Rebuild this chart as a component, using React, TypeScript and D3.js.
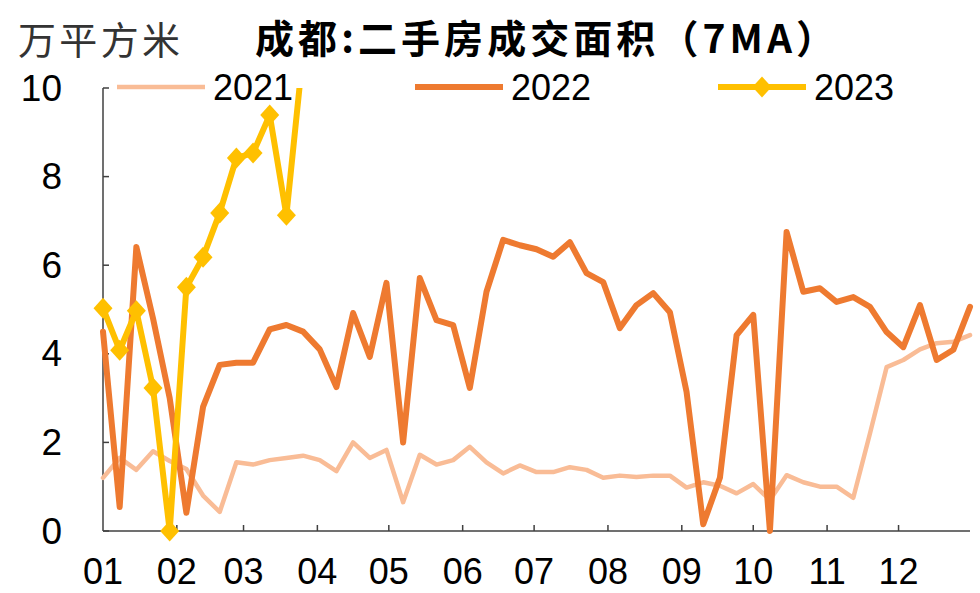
import React from 'react';
import * as d3 from 'd3';

const MONTH_LABELS = ['01', '02', '03', '04', '05', '06', '07', '08', '09', '10', '11', '12'];
const Y_TICKS = [0, 2, 4, 6, 8, 10];
const SERIES_NAMES = ['2021', '2022', '2023'];
const SERIES_COLORS = ['#F9BC96', '#EE7A30', '#FFC000'];

const V2021 = [
  1.2, 1.65, 1.38, 1.8, 1.58, 1.4, 0.8, 0.43, 1.55, 1.5, 1.6, 1.65, 1.7, 1.6,
  1.35, 2.0, 1.65, 1.83, 0.65, 1.72, 1.5, 1.6, 1.9, 1.55, 1.3, 1.48, 1.33, 1.33,
  1.44, 1.38, 1.2, 1.25, 1.22, 1.25, 1.25, 0.98, 1.1, 1.02, 0.85, 1.06, 0.7, 1.26,
  1.1, 1.0, 1.0, 0.75, 2.2, 3.7, 3.86, 4.1, 4.24, 4.27, 4.42,
];
const V2022 = [
  4.5, 0.54, 6.41, 4.8, 3.0, 0.41, 2.8, 3.75, 3.8, 3.8, 4.55, 4.65, 4.5, 4.1,
  3.25, 4.92, 3.93, 5.6, 2.0, 5.71, 4.76, 4.65, 3.23, 5.4, 6.57, 6.45, 6.36, 6.19,
  6.52, 5.82, 5.62, 4.58, 5.1, 5.37, 4.94, 3.14, 0.15, 1.2, 4.42, 4.88, 0.0, 6.75,
  5.4, 5.48, 5.17, 5.28, 5.06, 4.49, 4.15, 5.1, 3.86, 4.09, 5.06,
];
const V2023 = [5.03, 4.08, 4.97, 3.23, 0.0, 5.5, 6.18, 7.18, 8.42, 8.53, 9.39, 7.13, 10.8];

const W = 980;
const H = 593;
const M = { left: 103, right: 10, top: 88, bottom: 62 };

export default function App() {
  const start = new Date(2022, 0, 1);
  const end = new Date(2022, 11, 31);
  const x = d3.scaleTime().domain([start, end]).range([M.left, W - M.right]);
  const y = d3.scaleLinear().domain([0, 10]).range([H - M.bottom, M.top]);
  const dateOf = (i: number) => d3.timeDay.offset(start, 7 * i);
  const monthTicks = d3.timeMonth.range(start, new Date(2023, 0, 1));

  const line = d3
    .line<number>()
    .x((_, i) => x(dateOf(i)))
    .y((d) => y(d));

  const series = [V2021, V2022, V2023];
  const widths = [4.5, 6, 6];
  const diamond = 'M0,-10.5L9.5,0L0,10.5L-9.5,0Z';

  const numFont = '"Liberation Sans", Arial, sans-serif';
  const cjkFont = '"Noto Sans CJK SC", "Noto Sans", sans-serif';
  const axisColor = '#404040';

  const legendX = [117, 415, 718];
  const legendY = 87;
  const legendLen = 88;

  return (
    <svg width={W} height={H} style={{ display: 'block', position: 'absolute', left: 0, top: 0, background: '#fff' }}>
      <defs>
        <clipPath id="plot">
          <rect x={M.left - 14} y={M.top} width={W - M.left - M.right + 28} height={H - M.top - M.bottom + 15} />
        </clipPath>
      </defs>
      <text x={18} y={37} fontFamily={cjkFont} fontSize={38} fill="#333" dominantBaseline="central" textLength={162} lengthAdjust="spacing">
        万平方米
      </text>
      <text
        x={255}
        y={36}
        fontFamily={cjkFont}
        fontSize={39}
        fontWeight="bold"
        fill="#000"
        dominantBaseline="central"
        textLength={580}
        lengthAdjust="spacing"
      >
        成都:二手房成交面积（7MA）
      </text>

      {/* axes */}
      <line x1={M.left} x2={M.left} y1={M.top} y2={H - M.bottom} stroke={axisColor} strokeWidth={1.5} />
      <line x1={M.left} x2={W - M.right} y1={H - M.bottom} y2={H - M.bottom} stroke={axisColor} strokeWidth={1.5} />
      {Y_TICKS.map((t) => (
        <g key={t}>
          <line x1={M.left} x2={M.left + 6} y1={y(t)} y2={y(t)} stroke={axisColor} strokeWidth={1.5} />
          <text x={62} y={y(t)} textAnchor="end" dominantBaseline="central" fontFamily={numFont} fontSize={37} fill="#000">
            {t}
          </text>
        </g>
      ))}
      {monthTicks.map((d, i) => (
        <g key={i}>
          {i > 0 && (
            <line x1={x(d)} x2={x(d)} y1={H - M.bottom} y2={H - M.bottom - 6} stroke={axisColor} strokeWidth={1.5} />
          )}
          <text x={x(d)} y={584} textAnchor="middle" fontFamily={numFont} fontSize={36} fill="#000">
            {MONTH_LABELS[i]}
          </text>
        </g>
      ))}

      <g clipPath="url(#plot)">
        {series.map((s, k) => (
          <path
            key={k}
            d={line(s) || ''}
            fill="none"
            stroke={SERIES_COLORS[k]}
            strokeWidth={widths[k]}
            strokeLinejoin="round"
            strokeLinecap="round"
          />
        ))}
        {V2023.map((v, i) => (
          <path key={i} d={diamond} transform={`translate(${x(dateOf(i))},${y(v)})`} fill={SERIES_COLORS[2]} />
        ))}
      </g>

      {/* legend */}
      {SERIES_NAMES.map((name, k) => (
        <g key={name}>
          <line
            x1={legendX[k]}
            x2={legendX[k] + legendLen}
            y1={legendY}
            y2={legendY}
            stroke={SERIES_COLORS[k]}
            strokeWidth={widths[k]}
          />
          {k === 2 && (
            <path d={diamond} transform={`translate(${legendX[k] + legendLen / 2},${legendY})`} fill={SERIES_COLORS[k]} />
          )}
          <text
            x={legendX[k] + legendLen + 8}
            y={legendY}
            dominantBaseline="central"
            fontFamily={numFont}
            fontSize={36}
            fill="#000"
          >
            {name}
          </text>
        </g>
      ))}
    </svg>
  );
}
